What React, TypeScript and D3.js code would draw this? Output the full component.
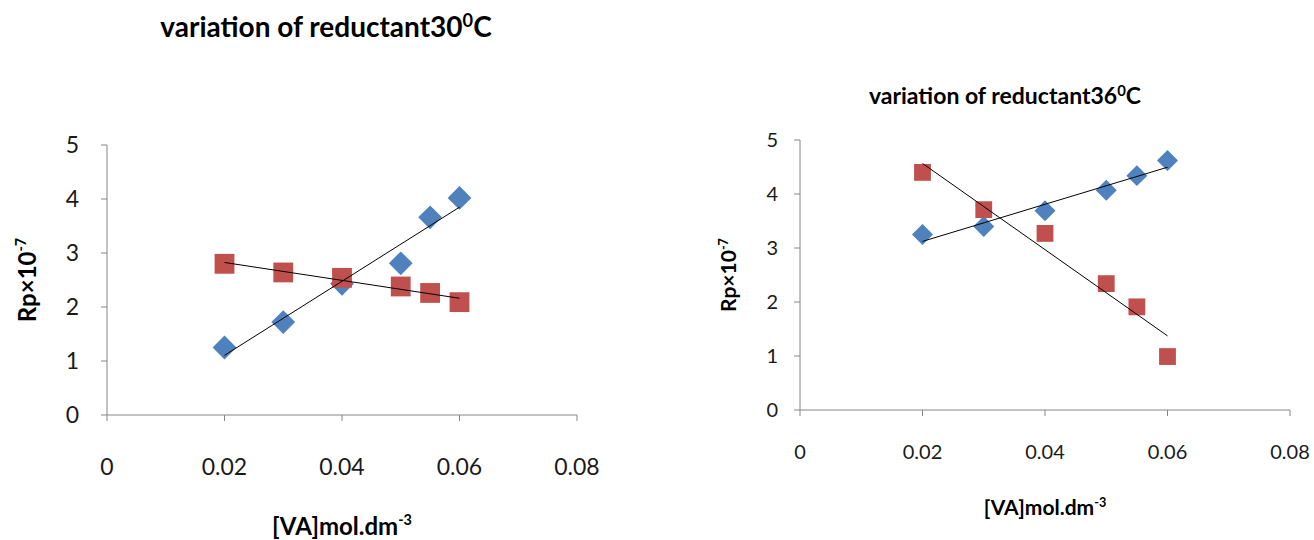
import React from "react";
import * as d3 from "d3";

const xValues = [0.02, 0.03, 0.04, 0.05, 0.055, 0.06];
const blue30 = [1.25, 1.72, 2.43, 2.81, 3.66, 4.02];
const red30 = [2.8, 2.64, 2.54, 2.38, 2.26, 2.09];
const blue36 = [3.25, 3.4, 3.69, 4.07, 4.34, 4.62];
const red36 = [4.4, 3.71, 3.27, 2.34, 1.91, 0.99];
const xTicks = [0, 0.02, 0.04, 0.06, 0.08];
const xTickLabels = ["0", "0.02", "0.04", "0.06", "0.08"];
const yTicks = [0, 1, 2, 3, 4, 5];
const titles = ["variation of reductant30", "variation of reductant36"];

const FONT = "Lato, 'Open Sans', sans-serif";
const BLUE = "#4F81BD";
const RED = "#C0504D";
const AXIS = "#868686";

function regress(xs: number[], ys: number[]) {
  const mx = d3.mean(xs)!;
  const my = d3.mean(ys)!;
  let sxy = 0, sxx = 0;
  xs.forEach((x, i) => {
    sxy += (x - mx) * (ys[i] - my);
    sxx += (x - mx) * (x - mx);
  });
  const b = sxy / sxx;
  const a = my - b * mx;
  return (x: number) => a + b * x;
}

type PanelProps = {
  left: number; right: number; top: number; bottom: number;
  blue: number[]; red: number[]; title: string;
  titleX: number; titleY: number; titleSize: number;
  tickSize: number; labelSize: number; yTickGap: number;
  yLabelX: number; xLabelY: number; xTickY: number;
  diamond: number; square: number;
};

function Panel(p: PanelProps) {
  const x = d3.scaleLinear().domain([0, 0.08]).range([p.left, p.right]);
  const y = d3.scaleLinear().domain([0, 5]).range([p.bottom, p.top]);
  const fb = regress(xValues, p.blue);
  const fr = regress(xValues, p.red);
  const x0 = d3.min(xValues)!;
  const x1 = d3.max(xValues)!;
  const diamondPath = d3.symbol().type(d3.symbolDiamond2).size(p.diamond)()!;
  const sqPath = d3.symbol().type(d3.symbolSquare2).size(p.square)()!;
  const cx = (p.left + p.right) / 2;
  const cy = (p.top + p.bottom) / 2;
  return (
    <g fontFamily={FONT}>
      <text x={p.titleX} y={p.titleY} textAnchor="middle" fontSize={p.titleSize} fontWeight="bold" fill="#000">
        {p.title}
        <tspan fontSize={p.titleSize * 0.65} dy={-p.titleSize * 0.35}>0</tspan>
        <tspan dy={p.titleSize * 0.35}>C</tspan>
      </text>
      <line x1={p.left} x2={p.left} y1={p.top} y2={p.bottom} stroke={AXIS} />
      <line x1={p.left} x2={p.right} y1={p.bottom} y2={p.bottom} stroke={AXIS} />
      {yTicks.map((t) => (
        <g key={"y" + t}>
          <line x1={p.left - 6} x2={p.left} y1={y(t)} y2={y(t)} stroke={AXIS} />
          <text x={p.left - p.yTickGap} y={y(t)} dy="0.36em" textAnchor="end" fontSize={p.tickSize} fill="#1a1a1a">
            {t}
          </text>
        </g>
      ))}
      {xTicks.map((t, i) => (
        <g key={"x" + t}>
          <line x1={x(t)} x2={x(t)} y1={p.bottom} y2={p.bottom + 6} stroke={AXIS} />
          <text x={x(t)} y={p.xTickY} dy="0.36em" textAnchor="middle" fontSize={p.tickSize} fill="#1a1a1a">
            {xTickLabels[i]}
          </text>
        </g>
      ))}
      {xValues.map((v, i) => (
        <path key={"b" + i} d={diamondPath} transform={`translate(${x(v)},${y(p.blue[i])})`} fill={BLUE} />
      ))}
      {xValues.map((v, i) => (
        <path key={"r" + i} d={sqPath} transform={`translate(${x(v)},${y(p.red[i])})`} fill={RED} />
      ))}
      <line x1={x(x0)} y1={y(fb(x0))} x2={x(x1)} y2={y(fb(x1))} stroke="#000" strokeWidth={1} />
      <line x1={x(x0)} y1={y(fr(x0))} x2={x(x1)} y2={y(fr(x1))} stroke="#000" strokeWidth={1} />
      <text transform={`translate(${p.yLabelX},${cy}) rotate(-90)`} textAnchor="middle" fontSize={p.labelSize} fontWeight="bold" fill="#000">
        Rp×10
        <tspan fontSize={p.labelSize * 0.6} dy={-p.labelSize * 0.4}>-7</tspan>
      </text>
      <text x={cx} y={p.xLabelY} textAnchor="middle" fontSize={p.labelSize} fontWeight="bold" fill="#000">
        [VA]mol.dm
        <tspan fontSize={p.labelSize * 0.6} dy={-p.labelSize * 0.4}>-3</tspan>
      </text>
    </g>
  );
}

export default function App() {
  return (
    <svg width={1314} height={540} style={{ position: "absolute", left: 0, top: 0, background: "#fff" }}>
      <rect width={1314} height={540} fill="#fff" />
      <Panel
        left={107} right={577} top={145} bottom={415}
        blue={blue30} red={red30} title={titles[0]}
        titleX={326} titleY={37} titleSize={28}
        tickSize={23} labelSize={24} yTickGap={28}
        yLabelX={36} xLabelY={535} xTickY={467}
        diamond={360} square={500}
      />
      <Panel
        left={800} right={1290} top={140} bottom={410}
        blue={blue36} red={red36} title={titles[1]}
        titleX={1005} titleY={104} titleSize={23}
        tickSize={20} labelSize={21} yTickGap={22}
        yLabelX={736} xLabelY={515} xTickY={452}
        diamond={280} square={360}
      />
    </svg>
  );
}
